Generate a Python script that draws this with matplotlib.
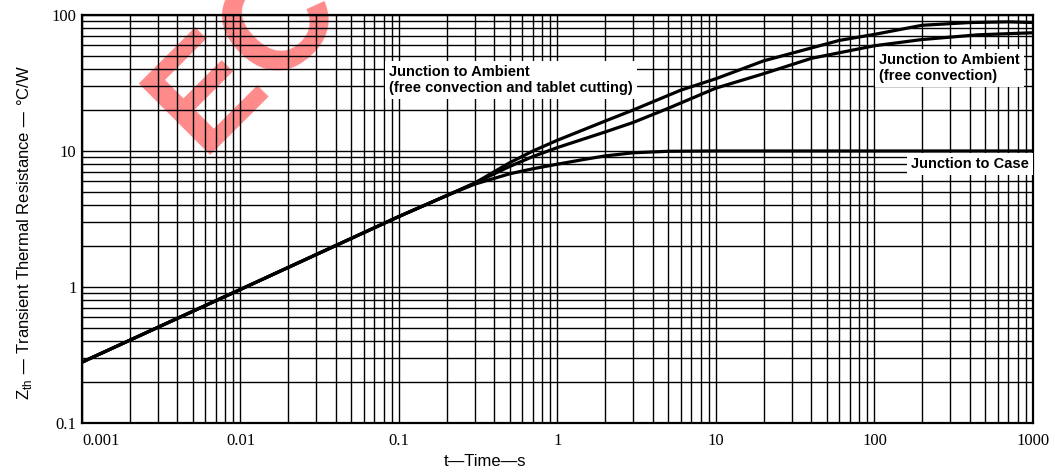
import numpy as np
import matplotlib.pyplot as plt
from matplotlib.ticker import FixedLocator, LogLocator, NullFormatter

# Curvas de impedancia termica transitoria (leitura em escala log-log)
t_case = [0.001, 0.01, 0.1, 0.2, 0.3, 0.5, 0.7, 1, 1.5, 2, 3, 5, 10, 100, 1000]
z_case = [0.28, 0.96, 3.3, 4.7, 5.7, 6.8, 7.4, 8.0, 8.7, 9.2, 9.7, 9.95, 10, 10, 10]

t_amb = [0.001, 0.01, 0.1, 0.2, 0.3, 0.5, 0.7, 1, 2, 3, 5, 10, 20, 40, 100, 200, 450, 1000]
z_amb = [0.28, 0.96, 3.3, 4.7, 5.8, 7.7, 9.1, 10.6, 13.8, 16.2, 20.6, 29, 37, 48, 59.4, 66, 71.5, 74]

t_tab = [0.001, 0.01, 0.1, 0.2, 0.3, 0.5, 0.7, 1, 2, 3, 6, 10, 20, 60, 100, 200, 400, 700, 1000]
z_tab = [0.28, 0.96, 3.3, 4.7, 5.8, 8.2, 10.0, 12.0, 16.6, 20, 28, 34, 46, 65, 72, 84, 88, 89, 88]

x_ticks = [0.001, 0.01, 0.1, 1, 10, 100, 1000]
x_labels = ['0.001', '0.01', '0.1', '1', '10', '100', '1000']
y_ticks = [0.1, 1, 10, 100]
y_labels = ['0.1', '1', '10', '100']

fig = plt.figure(figsize=(10.55, 4.74), dpi=100)
ax = fig.add_axes([0.0777, 0.1076, 0.9014, 0.8608])

ax.set_xscale('log')
ax.set_yscale('log')
ax.set_xlim(0.001, 1000)
ax.set_ylim(0.1, 100)

# grade do papel log
ax.set_axisbelow(True)
ax.xaxis.set_major_locator(FixedLocator(x_ticks))
ax.yaxis.set_major_locator(FixedLocator(y_ticks))
ax.xaxis.set_minor_locator(LogLocator(base=10, subs=np.arange(2, 10)))
ax.yaxis.set_minor_locator(LogLocator(base=10, subs=np.arange(2, 10)))
ax.xaxis.set_minor_formatter(NullFormatter())
ax.yaxis.set_minor_formatter(NullFormatter())
ax.grid(True, which='both', color='black', linewidth=1.0)
ax.tick_params(which='both', length=0)
ax.tick_params(axis='x', pad=7)
ax.tick_params(axis='y', pad=4)
ax.set_xticklabels(x_labels, family='Liberation Serif', fontsize=12)
ax.set_yticklabels(y_labels, family='Liberation Serif', fontsize=12)
ax.get_xticklabels()[0].set_horizontalalignment('left')
for s in ax.spines.values():
    s.set_linewidth(1.6)

# curvas
for t, z in [(t_case, z_case), (t_amb, z_amb), (t_tab, z_tab)]:
    ax.plot(t, z, color='black', linewidth=2.3, solid_capstyle='round', zorder=4)

box = dict(facecolor='white', edgecolor='none', pad=3)
ax.text(0.323, 0.877, 'Junction to Ambient\n(free convection and tablet cutting)',
        transform=ax.transAxes, ha='left', va='top', fontsize=10.5, fontweight='bold',
        family='Liberation Sans', bbox=box, zorder=3, linespacing=1.15)
ax.text(0.838, 0.907, 'Junction to Ambient\n(free convection)',
        transform=ax.transAxes, ha='left', va='top', fontsize=10.5, fontweight='bold',
        family='Liberation Sans', bbox=box, zorder=3, linespacing=1.15)
ax.text(0.996, 0.652, 'Junction to Case',
        transform=ax.transAxes, ha='right', va='top', fontsize=10.5, fontweight='bold',
        family='Liberation Sans', bbox=box, zorder=3)

ax.set_xlabel('t\u2014Time\u2014s', family='Liberation Sans', fontsize=12)
ax.set_ylabel('Z$_{\\mathregular{th}}$ \u2014 Transient Thermal Resistance \u2014 \u00b0C/W',
              family='Liberation Sans', fontsize=12)
ax.xaxis.set_label_coords(0.424, -0.075)
ax.yaxis.set_label_coords(-0.05, 0.468)

# marca d'agua
ax.text(0.19, 0.673, 'EC', transform=fig.transFigure, rotation=45,
        rotation_mode='anchor', ha='left', va='baseline', fontsize=106,
        fontweight='bold', family='Liberation Sans', color='#ff8a8a',
        zorder=0.2, clip_on=False)

fig.savefig('out.png', dpi=100)
